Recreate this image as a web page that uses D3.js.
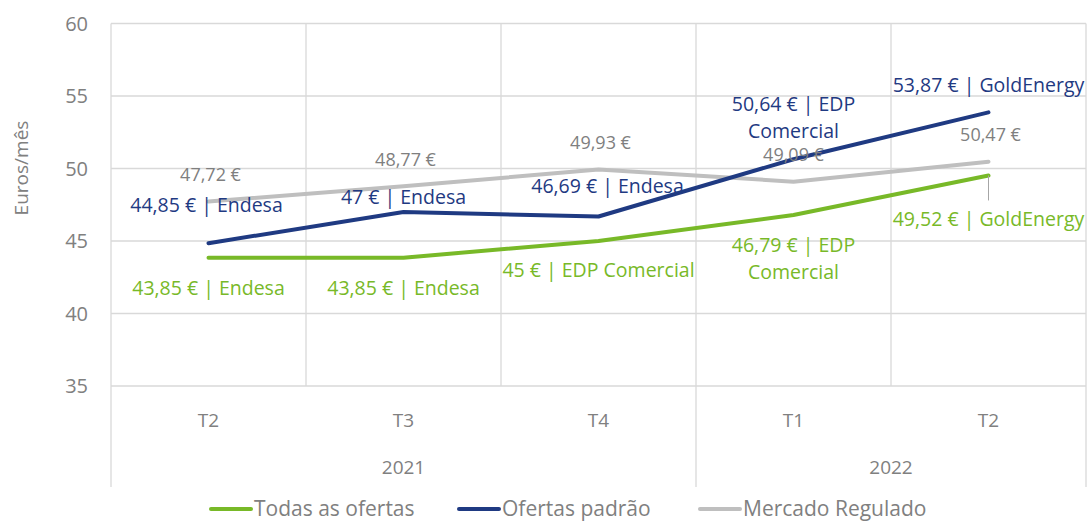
<!DOCTYPE html>
<html>
<head>
<meta charset="utf-8">
<script src="https://cdn.jsdelivr.net/npm/d3@7"></script>
<style>
  body { margin: 0; background: #fff; }
  text { font-family: "Open Sans", "Noto Sans", sans-serif; }
</style>
</head>
<body>
<div id="chart"></div>
<script>
// data
const quarters = ['T2', 'T3', 'T4', 'T1', 'T2']
const years = [{label: '2021', from: 0, to: 3}, {label: '2022', from: 3, to: 5}]
const todasOfertas = [43.85, 43.85, 45, 46.79, 49.52]
const todasComerc = ['Endesa', 'Endesa', 'EDP Comercial', 'EDP Comercial', 'GoldEnergy']
const ofertasPadrao = [44.85, 47, 46.69, 50.64, 53.87]
const padraoComerc = ['Endesa', 'Endesa', 'Endesa', 'EDP Comercial', 'GoldEnergy']
const mercadoRegulado = [47.72, 48.77, 49.93, 49.09, 50.47]
const yTicks = [35, 40, 45, 50, 55, 60]

const W = 1088, H = 521
const plotL = 111, plotR = 1086, plotT = 23.5, plotB = 386

const fmt = v => String(v).replace('.', ',') + ' €'

const svg = d3.select('#chart').append('svg')
  .attr('width', W).attr('height', H)

const x = d3.scaleBand().domain(d3.range(quarters.length)).range([plotL, plotR])
const y = d3.scaleLinear().domain([35, 60]).range([plotB, plotT])
const cx = i => x(i) + x.bandwidth() / 2

// grid
svg.append('g').selectAll('line').data(yTicks).enter().append('line')
  .attr('x1', plotL).attr('x2', plotR)
  .attr('y1', d => y(d)).attr('y2', d => y(d))
  .attr('stroke', '#d9d9d9').attr('stroke-width', 1.3)

svg.append('g').selectAll('line').data(d3.range(quarters.length + 1)).enter().append('line')
  .attr('x1', i => i < quarters.length ? x(i) : plotR)
  .attr('x2', i => i < quarters.length ? x(i) : plotR)
  .attr('y1', plotT)
  .attr('y2', i => (i === 0 || i === quarters.length || years.some(yr => yr.from === i)) ? 487 : plotB)
  .attr('stroke', '#d9d9d9').attr('stroke-width', 1.3)

// y axis labels
svg.append('g').selectAll('text').data(yTicks).enter().append('text')
  .attr('x', 88).attr('y', d => y(d)).attr('dy', '0.35em')
  .attr('text-anchor', 'end')
  .attr('fill', '#808080').attr('font-size', 20)
  .text(d => d)

svg.append('text')
  .attr('transform', 'translate(28,168) rotate(-90)')
  .attr('text-anchor', 'middle')
  .attr('fill', '#808080').attr('font-size', 19)
  .text('Euros/mês')

// x labels
svg.append('g').selectAll('text').data(quarters).enter().append('text')
  .attr('x', (d, i) => cx(i)).attr('y', 420).attr('dy', '0.35em')
  .attr('text-anchor', 'middle')
  .attr('fill', '#808080').attr('font-size', 19)
  .text(d => d)

svg.append('g').selectAll('text').data(years).enter().append('text')
  .attr('x', d => (x(d.from) + (d.to < quarters.length ? x(d.to) : plotR)) / 2)
  .attr('y', 467).attr('dy', '0.35em')
  .attr('text-anchor', 'middle')
  .attr('fill', '#808080').attr('font-size', 19)
  .text(d => d.label)

// lines
const line = d3.line().x((d, i) => cx(i)).y(d => y(d))
const series = [
  {vals: mercadoRegulado, color: '#bfbfbf'},
  {vals: ofertasPadrao, color: '#1f3a82'},
  {vals: todasOfertas, color: '#78b928'}
]
series.forEach(s => {
  svg.append('path').datum(s.vals)
    .attr('d', line)
    .attr('fill', 'none')
    .attr('stroke', s.color)
    .attr('stroke-width', 4)
    .attr('stroke-linecap', 'round')
    .attr('stroke-linejoin', 'round')
})

// leader line for last green label
svg.append('line')
  .attr('x1', cx(4)).attr('x2', cx(4))
  .attr('y1', y(todasOfertas[4])).attr('y2', y(todasOfertas[4]) + 25)
  .attr('stroke', '#a6a6a6').attr('stroke-width', 1)

// data labels
const labelOffsets = {
  green: [[0, 30], [0, 30], [0, 29], [0, 30], [0, 44]],
  blue: [[-2, -38], [0, -15], [9, -30], [0, -55], [0, -27]],
  gray: [[2, -27], [2, -27], [2, -27], [0, -27], [2, -27]]
}

function labels(vals, names, color, offs, size) {
  vals.forEach((v, i) => {
    const txt = names ? fmt(v) + ' | ' + names[i] : fmt(v)
    const lines = (names && names[i] === 'EDP Comercial' && i === 3)
      ? [fmt(v) + ' | EDP', 'Comercial'] : [txt]
    const t = svg.append('text')
      .attr('x', cx(i) + offs[i][0])
      .attr('y', y(v) + offs[i][1])
      .attr('text-anchor', 'middle')
      .attr('fill', color)
      .attr('font-size', size)
    lines.forEach((l, j) => {
      t.append('tspan').attr('x', cx(i) + offs[i][0]).attr('dy', j === 0 ? '0.35em' : 27).text(l)
    })
  })
}
labels(mercadoRegulado, null, '#7f7f7f', labelOffsets.gray, 18)
labels(ofertasPadrao, padraoComerc, '#1f3a82', labelOffsets.blue, 19.5)
labels(todasOfertas, todasComerc, '#78b928', labelOffsets.green, 19.5)

// legend
const legendItems = [
  {name: 'Todas as ofertas', color: '#78b928', x: 211},
  {name: 'Ofertas padrão', color: '#1f3a82', x: 459},
  {name: 'Mercado Regulado', color: '#bfbfbf', x: 700}
]
const lg = svg.append('g').selectAll('g').data(legendItems).enter().append('g')
  .attr('transform', d => `translate(${d.x},509)`)
lg.append('line')
  .attr('x1', 0).attr('x2', 40)
  .attr('stroke', d => d.color).attr('stroke-width', 4).attr('stroke-linecap', 'round')
lg.append('text')
  .attr('x', 43).attr('dy', '0.35em')
  .attr('fill', '#808080').attr('font-size', 21)
  .text(d => d.name)
</script>
</body>
</html>
